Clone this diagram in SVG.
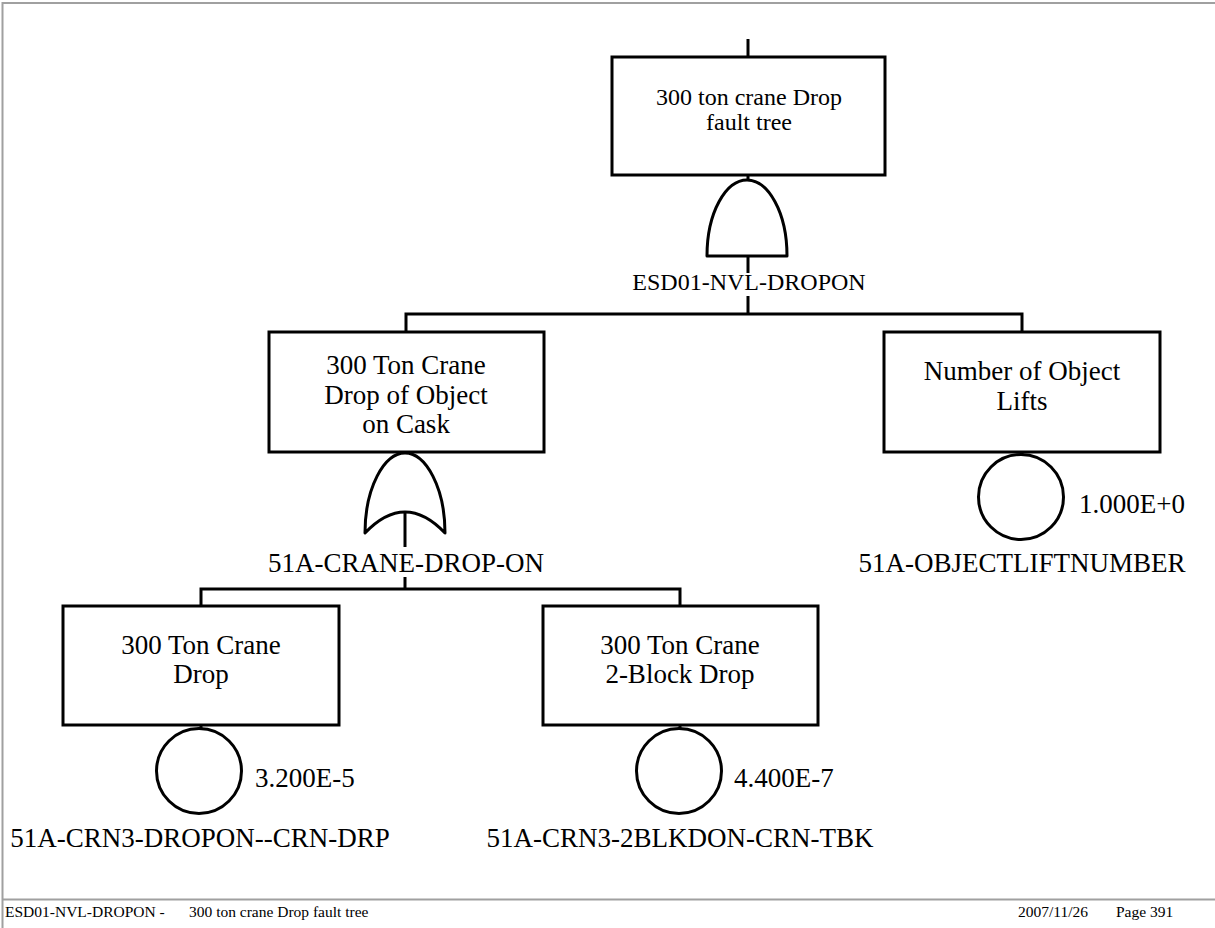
<svg xmlns="http://www.w3.org/2000/svg" width="1215" height="928" viewBox="0 0 1215 928">
<style>
.bx{fill:#fff;stroke:#000;stroke-width:3}
.gt{fill:#fff;stroke:#000;stroke-width:3;stroke-linejoin:round}
.ev{fill:#fff;stroke:#000;stroke-width:3}
.cn{fill:none;stroke:#000;stroke-width:3}
.fr{fill:none;stroke:#a0a0a0;stroke-width:2}
text{font-family:'Liberation Serif','DejaVu Serif',serif;fill:#000}
.t24{font-size:24px;text-anchor:middle}
.t27{font-size:27px;text-anchor:middle}
.p27{font-size:27px}
.ft{font-size:15.5px}
</style>
<rect width="1215" height="928" fill="#fff"/>
<g id="frame">
<path class="fr" d="M2.5,928 V3 H1215"/>
<line class="fr" x1="2.5" y1="899.5" x2="1215" y2="899.5"/>
</g>
<g id="connectors">
<path class="cn" d="M748,39 V57"/>
<path class="cn" d="M748,175 V181"/>
<path class="cn" d="M748,256 V273"/>
<path class="cn" d="M748,296 V314 M406,332 V314 H1022 V332"/>
<path class="cn" d="M406,452 V455"/>
<path class="cn" d="M405,577 V589 M201,606 V589 H680 V606"/>
<path class="cn" d="M201,725 V729"/>
<path class="cn" d="M680,725 V729"/>
<path class="cn" d="M1022,452 V455"/>
</g>
<g id="top-event">
<rect class="bx" x="612" y="57" width="273" height="118"/>
<text class="t24" x="749" y="105" font-family="Liberation Serif, serif">300 ton crane Drop</text>
<text class="t24" x="749" y="130" font-family="Liberation Serif, serif">fault tree</text>
</g>
<g id="gate-ESD01-NVL-DROPON">
<path class="gt" d="M707,256 C707,212 726,180 747,180 C768,180 787,212 787,256 Z"/>
<text class="t24" x="749" y="290">ESD01-NVL-DROPON</text>
</g>
<g id="crane-drop-on-cask">
<rect class="bx" x="269" y="332" width="275" height="120"/>
<text class="t27" x="406" y="374">300 Ton Crane</text>
<text class="t27" x="406" y="404">Drop of Object</text>
<text class="t27" x="406" y="433">on Cask</text>
</g>
<g id="gate-51A-CRANE-DROP-ON">
<path class="gt" d="M365,533 C365,488 384,453 405,453 C426,453 445,488 445,533 Q405,491 365,533 Z"/>
<line class="cn" x1="405" y1="512" x2="405" y2="547"/>
<text class="t27" x="406" y="572">51A-CRANE-DROP-ON</text>
</g>
<g id="object-lifts">
<rect class="bx" x="884" y="332" width="276" height="120"/>
<text class="t27" x="1022" y="380">Number of Object</text>
<text class="t27" x="1022" y="410">Lifts</text>
</g>
<g id="event-51A-OBJECTLIFTNUMBER">
<circle class="ev" cx="1021" cy="497" r="42.5"/>
<text class="p27" x="1079" y="513">1.000E+0</text>
<text class="t27" x="1022" y="572">51A-OBJECTLIFTNUMBER</text>
</g>
<g id="crane-drop">
<rect class="bx" x="63" y="606" width="276" height="119"/>
<text class="t27" x="201" y="654">300 Ton Crane</text>
<text class="t27" x="201" y="683">Drop</text>
</g>
<g id="event-51A-CRN3-DROPON--CRN-DRP">
<circle class="ev" cx="199" cy="771" r="42.5"/>
<text class="p27" x="255" y="787">3.200E-5</text>
<text class="t27" x="200" y="847">51A-CRN3-DROPON--CRN-DRP</text>
</g>
<g id="crane-2block-drop">
<rect class="bx" x="543" y="606" width="275" height="119"/>
<text class="t27" x="680" y="654">300 Ton Crane</text>
<text class="t27" x="680" y="683">2-Block Drop</text>
</g>
<g id="event-51A-CRN3-2BLKDON-CRN-TBK">
<circle class="ev" cx="679" cy="771" r="42.5"/>
<text class="p27" x="734" y="787">4.400E-7</text>
<text class="t27" x="680" y="847">51A-CRN3-2BLKDON-CRN-TBK</text>
</g>
<g id="footer">
<text class="ft" x="5" y="917">ESD01-NVL-DROPON  -</text>
<text class="ft" x="189" y="917">300 ton crane Drop fault tree</text>
<text class="ft" x="1018" y="917">2007/11/26</text>
<text class="ft" x="1116" y="917">Page 391</text>
</g>
</svg>
